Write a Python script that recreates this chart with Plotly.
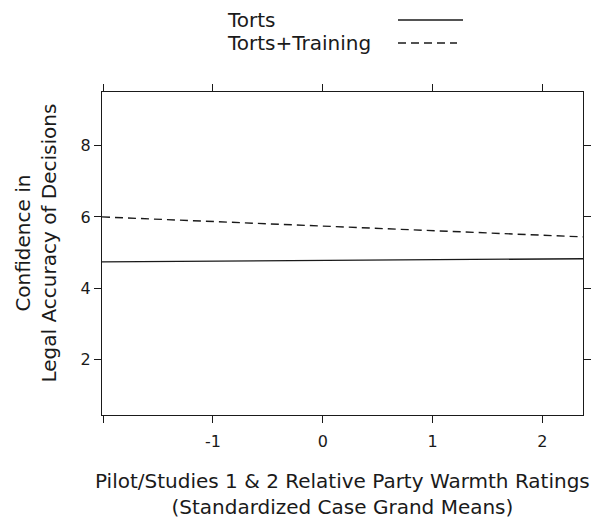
import plotly.graph_objects as go

# Data
x_vals = [-2.01, 2.37]
torts = [4.74, 4.83]
torts_training = [6.00, 5.44]
series_names = ["Torts", "Torts+Training"]

x_tickvals = [-2, -1, 0, 1, 2]
x_ticktext = ["", "-1", "0", "1", "2"]
y_tickvals = [2, 4, 6, 8]

FONT = "DejaVu Sans, Liberation Sans, sans-serif"
INK = "#1a1a1a"

fig = go.Figure()
fig.add_trace(go.Scatter(x=x_vals, y=torts, mode="lines", name=series_names[0],
                         line=dict(color=INK, width=1.4), showlegend=False))
fig.add_trace(go.Scatter(x=x_vals, y=torts_training, mode="lines", name=series_names[1],
                         line=dict(color=INK, width=1.4, dash="8px,5px"), showlegend=False))

axis_common = dict(showline=True, linecolor=INK, linewidth=1, mirror="allticks",
                   ticks="outside", ticklen=7, tickwidth=1, tickcolor=INK,
                   showgrid=False, zeroline=False,
                   tickfont=dict(family=FONT, size=16, color=INK))

fig.update_layout(
    width=592, height=518,
    margin=dict(l=102, r=1, t=92, b=103),
    paper_bgcolor="white", plot_bgcolor="white",
    font=dict(family=FONT, color=INK),
    xaxis=dict(range=[x_vals[0], x_vals[1]], tickvals=x_tickvals, ticktext=x_ticktext,
               ticklabelstandoff=5, **axis_common),
    yaxis=dict(range=[0.45, 9.5], tickvals=y_tickvals, **axis_common),
)

TS = 20
# Axis titles
fig.add_annotation(text="Pilot/Studies 1 &amp; 2 Relative Party Warmth Ratings<br>(Standardized Case Grand Means)",
                   xref="paper", yref="paper", x=0.5, y=0, xanchor="center", yanchor="top",
                   yshift=-52, showarrow=False, font=dict(family=FONT, size=TS, color=INK))
fig.add_annotation(text="Confidence in<br>Legal Accuracy of Decisions",
                   xref="paper", yref="paper", x=0, y=0.5, xanchor="center", yanchor="middle",
                   xshift=-67, yshift=10, textangle=-90, showarrow=False,
                   font=dict(family=FONT, size=TS, color=INK))

# Custom legend (text left, line sample right)
PW = 481
legend_rows = [(series_names[0], "solid", 72, 463), (series_names[1], "8px,5px", 49, 457)]
for name, dash, shift, x_end in legend_rows:
    fig.add_annotation(text=name, xref="paper", yref="paper",
                       x=(225 - 102) / PW, y=1, xanchor="left", yanchor="middle",
                       yshift=shift, showarrow=False,
                       font=dict(family=FONT, size=TS, color=INK))
    y_paper = 1 + shift / 323
    fig.add_shape(type="line", xref="paper", yref="paper",
                  x0=(398 - 102) / PW, x1=(x_end - 102) / PW, y0=y_paper, y1=y_paper,
                  line=dict(color=INK, width=1.4, dash=dash))

fig.write_html("out.html")
